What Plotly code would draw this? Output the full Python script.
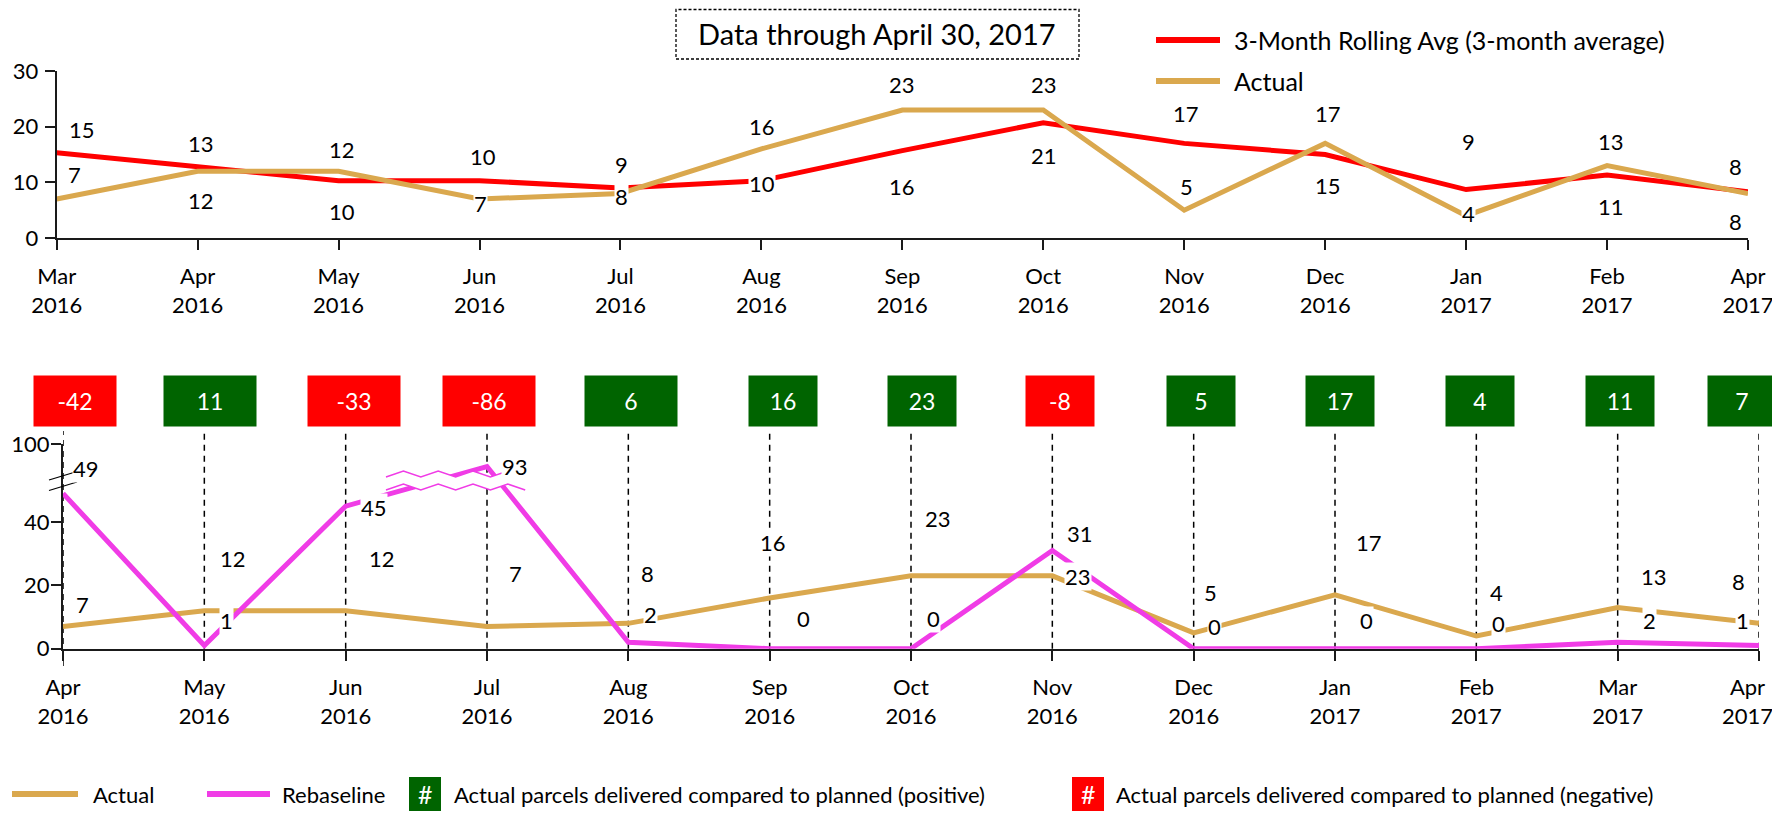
import plotly.graph_objects as go

# ---------------- data ----------------
top_months = ["Mar<br>2016", "Apr<br>2016", "May<br>2016", "Jun<br>2016", "Jul<br>2016",
              "Aug<br>2016", "Sep<br>2016", "Oct<br>2016", "Nov<br>2016", "Dec<br>2016",
              "Jan<br>2017", "Feb<br>2017", "Apr<br>2017"]
top_roll = [15.3, 12.7, 10.3, 10.3, 9.0, 10.3, 15.7, 20.7, 17.0, 15.0, 8.7, 11.3, 8.3]
top_actual = [7, 12, 12, 7, 8, 16, 23, 23, 5, 17, 4, 13, 8]
top_yticks = [0, 10, 20, 30]

bot_months = ["Apr<br>2016", "May<br>2016", "Jun<br>2016", "Jul<br>2016", "Aug<br>2016",
              "Sep<br>2016", "Oct<br>2016", "Nov<br>2016", "Dec<br>2016", "Jan<br>2017",
              "Feb<br>2017", "Mar<br>2017", "Apr<br>2017"]
bot_actual = [7, 12, 12, 7, 8, 16, 23, 23, 5, 17, 4, 13, 8]
bot_rebase = [49, 1, 45, 93, 2, 0, 0, 31, 0, 0, 0, 2, 1]
variance = [-42, 11, -33, -86, 6, 16, 23, -8, 5, 17, 4, 11, 7]
bot_yticks = [0, 20, 40, 100]

# ---------------- style ----------------
W, H = 1780, 816
OFF = 8  # page margin of the html body
FONT = "Lato"
FS = 22
RED = "#FF0000"
GOLD = "#DAA84E"
PINK = "#F03CE6"
GREEN = "#006400"
AX = "#1a1a1a"

# label offsets (dx, dy) in px; dy positive = downward
off_top_roll = [(25, -23), (3, -24), (3, 31), (3, -24), (1, -23), (1, 3), (0, 36), (1, 33),
                (2, -30), (3, 31), (2, -48), (4, 31), (-13, -25)]
off_top_act = [(18, -25), (3, 29), (3, -22), (1, 4), (1, 3), (1, -22), (0, -25), (1, -25),
               (2, -24), (3, -30), (2, -2), (4, -24), (-13, 28)]
off_bot_act = [(19, -22), (29, -52), (36, -52), (28, -53), (19, -50), (3, -56), (27, -57),
               (26, 1), (17, -40), (34, -52), (20, -44), (36, -31), (-21, -42)]
off_bot_reb = [(23, -25), (22, -25), (28, 1), (28, 0), (22, -28), (34, -30), (22, -30),
               (28, -17), (21, -22), (31, -28), (22, -25), (32, -22), (-17, -25)]
box_w = [82, 92, 92, 92, 92, 68, 68, 68, 68, 68, 68, 68, 68]
box_dx = [12, 6, 8, 2, 3, 13, 11, 8, 7, 5, 4, 2, -17]


def xp(px):
    return (px - OFF) / W


def yp(py):
    return 1 - (py - OFF) / H


def brk(v):
    # broken axis: values above the break are shifted down
    return v if v <= 50 else v - 35.5


fig = go.Figure()

fig.add_trace(go.Scatter(x=top_months, y=top_roll, mode="lines", name="3-Month Rolling Avg (3-month average)",
                         line=dict(color=RED, width=5), xaxis="x", yaxis="y", cliponaxis=False,
                         showlegend=False))
fig.add_trace(go.Scatter(x=top_months, y=top_actual, mode="lines", name="Actual",
                         line=dict(color=GOLD, width=5), xaxis="x", yaxis="y", cliponaxis=False,
                         showlegend=False))
fig.add_trace(go.Scatter(x=bot_months, y=[brk(v) for v in bot_actual], mode="lines", name="Actual",
                         line=dict(color=GOLD, width=5), xaxis="x2", yaxis="y2", cliponaxis=False,
                         showlegend=False))
fig.add_trace(go.Scatter(x=bot_months, y=[brk(v) for v in bot_rebase], mode="lines", name="Rebaseline",
                         line=dict(color=PINK, width=5), xaxis="x2", yaxis="y2", cliponaxis=False,
                         showlegend=False))

axcommon = dict(showgrid=False, zeroline=False, showline=True, linecolor=AX, linewidth=2,
                ticks="outside", ticklen=10, tickwidth=2, tickcolor=AX, automargin=False,
                tickfont=dict(family=FONT, size=FS, color="black"))

# the last lower-panel month is written as an annotation so it stays inside the page
bot_ticktext = bot_months[:-1] + [""]

fig.update_layout(
    template="none",
    width=W, height=H, margin=dict(l=0, r=0, t=0, b=0, pad=0),
    paper_bgcolor="white", plot_bgcolor="rgba(0,0,0,0)",
    font=dict(family=FONT, size=FS, color="black"),
    showlegend=False,
    xaxis=dict(axcommon, type="category", categoryorder="array", categoryarray=top_months,
               range=[0, 12], domain=[xp(56.7), xp(1748)], anchor="y", ticklabelstandoff=8),
    yaxis=dict(axcommon, range=[0, 30], tickvals=top_yticks, domain=[yp(238), yp(71)],
               anchor="x", ticklabelstandoff=2),
    yaxis3=dict(axcommon, overlaying="y", side="right", anchor="x", range=[0, 2],
                tickvals=[0, 1, 2], showticklabels=False, linewidth=2.6),
    xaxis2=dict(axcommon, type="category", categoryorder="array", categoryarray=bot_months,
                tickvals=bot_months, ticktext=bot_ticktext,
                range=[0, 12], domain=[xp(63), xp(1759)], anchor="y2", ticklabelstandoff=8,
                layer="below traces"),
    yaxis2=dict(axcommon, range=[0, 64.6], tickvals=[brk(t) for t in bot_yticks],
                ticktext=[str(t) for t in bot_yticks], domain=[yp(648.7), yp(444)],
                anchor="x2", ticklabelstandoff=-3),
    yaxis4=dict(axcommon, overlaying="y2", side="right", anchor="x2", range=[0, 5],
                tickvals=[0, 1, 2, 3, 4, 5], showticklabels=False, linewidth=2.6),
)

shapes = []
ann = []

# last month label of the lower panel, pulled slightly left of its tick
ann.append(dict(xref="x2", yref="paper", x=bot_months[-1], y=yp(701), xshift=-12,
                xanchor="center", yanchor="middle", text=bot_months[-1], showarrow=False,
                font=dict(family=FONT, size=FS, color="black")))

# dashed category lines in the lower panel
for i in range(len(bot_months)):
    shapes.append(dict(type="line", xref="x2", yref="paper", x0=i, x1=i,
                       y0=yp(666 if i == 0 else 648.7), y1=yp(431), layer="below",
                       line=dict(color="black", width=1.5, dash="6px,5px")))

# axis break marks on left axis
for (ya, yb) in [(480, 471.5), (490.5, 482)]:
    shapes.append(dict(type="line", xref="paper", yref="paper", x0=xp(49), x1=xp(77),
                       y0=yp(ya), y1=yp(yb), line=dict(color="black", width=1.3)))

# wavy break across the rebaseline peak
xs = [386 + k * 17.4 for k in range(9)]
up = [474 + (3 if k % 2 == 0 else -3) for k in range(9)]
lo = [487 + (3 if k % 2 == 0 else -3) for k in range(9)]
fill_path = "M" + " L".join(f"{xp(x)},{yp(y)}" for x, y in zip(xs, up))
fill_path += " L" + " L".join(f"{xp(x)},{yp(y)}" for x, y in zip(reversed(xs), reversed(lo))) + " Z"
shapes.append(dict(type="path", xref="paper", yref="paper", path=fill_path,
                   fillcolor="white", line=dict(width=0), layer="above"))
for ys in (up, lo):
    p = "M" + " L".join(f"{xp(x)},{yp(y)}" for x, y in zip(xs, ys))
    shapes.append(dict(type="path", xref="paper", yref="paper", path=p,
                       line=dict(color=PINK, width=1.6), layer="above"))


def text_ann(px, py, txt, size=FS, color="black", xanchor="center"):
    ann.append(dict(xref="paper", yref="paper", x=xp(px), y=yp(py), xanchor=xanchor,
                    yanchor="middle", text=txt, showarrow=False,
                    font=dict(family=FONT, size=size, color=color)))


# title box
shapes.append(dict(type="rect", xref="paper", yref="paper", x0=xp(676), x1=xp(1079),
                   y0=yp(59), y1=yp(9.5), line=dict(color="black", width=1.3, dash="3px,2px")))
text_ann(877, 33, "Data through April 30, 2017", size=29)

# top legend
for yy, col, txt in [(40, RED, "3-Month Rolling Avg (3-month average)"), (81, GOLD, "Actual")]:
    shapes.append(dict(type="line", xref="paper", yref="paper", x0=xp(1156), x1=xp(1220),
                       y0=yp(yy), y1=yp(yy), line=dict(color=col, width=6)))
    text_ann(1232, yy, txt, size=25, xanchor="left")

# bottom legend
LY = 794
for x0, x1, col, tx, txt in [(12, 78, GOLD, 91, "Actual"), (207, 270, PINK, 280, "Rebaseline")]:
    shapes.append(dict(type="line", xref="paper", yref="paper", x0=xp(x0), x1=xp(x1),
                       y0=yp(LY), y1=yp(LY), line=dict(color=col, width=6)))
    text_ann(tx, LY, txt, xanchor="left")
for bx, col, tx, txt in [(409, GREEN, 452, "Actual parcels delivered compared to planned (positive)"),
                         (1072, RED, 1114, "Actual parcels delivered compared to planned (negative)")]:
    shapes.append(dict(type="rect", xref="paper", yref="paper", x0=xp(bx), x1=xp(bx + 32),
                       y0=yp(811), y1=yp(777), fillcolor=col, line=dict(width=0)))
    text_ann(bx + 16, LY, "#", size=25, color="white")
    text_ann(tx, LY, txt, xanchor="left")

# variance boxes
for i, v in enumerate(variance):
    ann.append(dict(xref="x2", yref="paper", x=bot_months[i], y=yp(401), xshift=box_dx[i],
                    yanchor="middle", text=str(v), showarrow=False,
                    bgcolor=GREEN if v >= 0 else RED,
                    width=box_w[i], height=50, borderpad=0, align="center",
                    font=dict(family=FONT, size=FS + 1, color="white")))


def label(xref, yref, x, y, val, off):
    ann.append(dict(xref=xref, yref=yref, x=x, y=y, xshift=off[0], yshift=-off[1],
                    xanchor="center", yanchor="middle",
                    text=f"{val:.0f}", showarrow=False, bgcolor="white", borderpad=0,
                    font=dict(family=FONT, size=FS, color="black")))


for i in range(len(top_months)):
    label("x", "y", top_months[i], top_roll[i], top_roll[i], off_top_roll[i])
    label("x", "y", top_months[i], top_actual[i], top_actual[i], off_top_act[i])
for i in range(len(bot_months)):
    label("x2", "y2", bot_months[i], brk(bot_actual[i]), bot_actual[i], off_bot_act[i])
    label("x2", "y2", bot_months[i], brk(bot_rebase[i]), bot_rebase[i], off_bot_reb[i])

fig.update_layout(shapes=shapes, annotations=ann)
fig.write_html("out.html")
